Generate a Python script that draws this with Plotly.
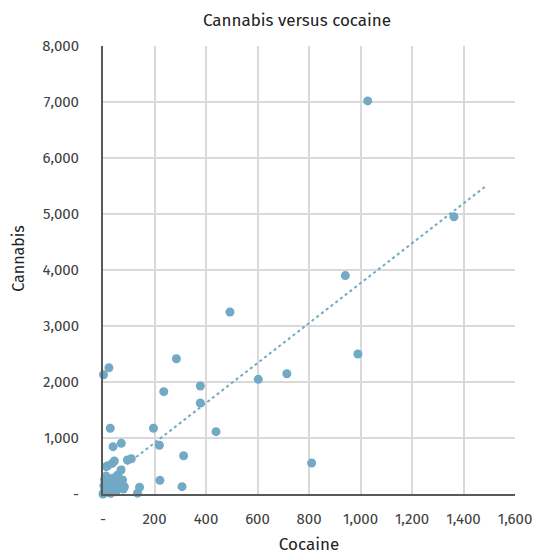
import plotly.graph_objects as go

# cocaine (x) vs cannabis (y), one point per area
cocaine = [0, 2, 5, 8, 3, 10, 6, 12, 15, 20, 18, 25, 22, 30, 28, 35, 40, 45, 38, 50,
           55, 48, 60, 57, 70, 76, 83, 79, 13, 18, 36, 44, 95, 110, 39, 71, 28, 23, 2,
           134, 142, 196, 219, 221, 236, 285, 307, 313, 378, 378, 439, 493, 603, 714,
           810, 941, 990, 1028, 1363]
cannabis = [0, 15, 40, 90, 150, 200, 260, 320, 30, 70, 120, 180, 240, 10, 60, 110, 170, 220, 280, 40,
            90, 150, 190, 340, 429, 250, 131, 89, 488, 505, 548, 589, 607, 630, 845, 905, 1175, 2255, 2130,
            15, 120, 1175, 870, 244, 1827, 2416, 131, 684, 1929, 1625, 1113, 3250, 2048, 2148,
            554, 3900, 2500, 7020, 4950]

# linear trendline as drawn on the chart
trend_x = [0, 1490]
trend_y = [200, 5510]

x_ticks = [0, 200, 400, 600, 800, 1000, 1200, 1400, 1600]
x_labels = ["-", "200", "400", "600", "800", "1,000", "1,200", "1,400", "1,600"]
y_ticks = [0, 1000, 2000, 3000, 4000, 5000, 6000, 7000, 8000]
y_labels = ["-", "1,000", "2,000", "3,000", "4,000", "5,000", "6,000", "7,000", "8,000"]

COLOR = "#72a9c4"
FONT = "Fira Sans, Open Sans, sans-serif"

fig = go.Figure()
fig.add_trace(go.Scatter(x=trend_x, y=trend_y, mode="lines",
                         line=dict(color=COLOR, width=2, dash="dot"),
                         showlegend=False, hoverinfo="skip"))
fig.add_trace(go.Scatter(x=cocaine, y=cannabis, mode="markers",
                         marker=dict(color=COLOR, size=9),
                         cliponaxis=False, showlegend=False))

fig.update_layout(
    width=538, height=555,
    margin=dict(l=103, r=23, t=46, b=61),
    paper_bgcolor="white", plot_bgcolor="white",
    font=dict(family=FONT, size=15, color="#404040"),
    title=dict(text="Cannabis versus cocaine", x=297 / 538, xanchor="center",
               y=1 - 20 / 555, yanchor="middle", font=dict(size=17, color="#222")),
)
fig.update_xaxes(range=[0, 1600], tickvals=x_ticks, ticktext=x_labels,
                 showgrid=True, gridcolor="#d9d9d9", gridwidth=1.5,
                 showline=True, linecolor="#595959", linewidth=2, zeroline=False,
                 ticks="", ticklabelstandoff=10, automargin=False,
                 title=dict(text="Cocaine", standoff=14, font=dict(size=17, color="#222")))
fig.update_yaxes(range=[0, 8000], tickvals=y_ticks, ticktext=y_labels,
                 showgrid=True, gridcolor="#d9d9d9", gridwidth=1.5,
                 showline=True, linecolor="#595959", linewidth=2, zeroline=False,
                 ticks="", ticklabelstandoff=19, automargin=False)

fig.add_annotation(text="Cannabis", textangle=-90, xref="paper", yref="paper",
                   x=-0.204, y=0.525, xanchor="center", yanchor="middle",
                   showarrow=False, font=dict(size=16, color="#222"))

# page has a default body margin; drop it so the figure fills the window
fig.write_html("out.html", config={"displayModeBar": False},
               post_script="document.body.style.margin='0px';")
